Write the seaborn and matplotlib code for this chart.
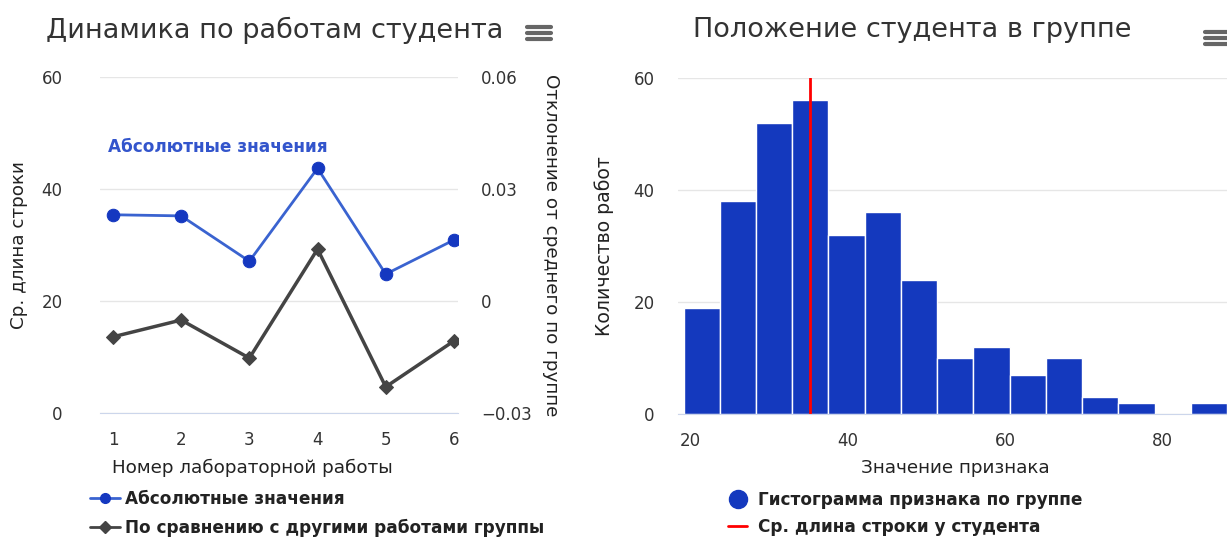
import numpy as np
import pandas as pd
import seaborn as sns
import matplotlib.pyplot as plt
from matplotlib.lines import Line2D

# данные по работам студента
lab_no = [1, 2, 3, 4, 5, 6]
abs_values = [35.4, 35.2, 27.1, 43.7, 24.8, 30.9]
deviation = [-0.0096, -0.0051, -0.0153, 0.0139, -0.0230, -0.0107]

# гистограмма по группе
bin_edges = [19.2, 23.8, 28.4, 33.0, 37.6, 42.2, 46.8, 51.4, 56.0, 60.6,
             65.2, 69.8, 74.4, 79.0, 83.6, 88.2]
bin_counts = [19, 38, 52, 56, 32, 36, 24, 10, 12, 7, 10, 3, 2, 0, 2]
student_mean = 35.2

sns.set_style("white")
plt.rcParams['font.family'] = ['DejaVu Sans']

BLUE_LINE = '#3a63d0'
BLUE_DOT = '#1538c0'
DARK = '#444444'
BAR = '#1439be'
GRID = '#e6e6e6'
AXIS = '#ccd6eb'
TXT = '#333333'
LBL = '#222222'

TICK_FS = 12
LBL_FS = 13.2
LEG_FS = 12.2
TITLE_FS = 19.5

fig = plt.figure(figsize=(12.27, 5.4), dpi=100)

# ---- левый график
ax = fig.add_axes([0.0815, 0.2352, 0.2918, 0.6222])
df = pd.DataFrame({'lab': lab_no, 'abs': abs_values, 'dev': deviation})
sns.lineplot(data=df, x='lab', y='abs', ax=ax, color=BLUE_LINE, lw=2,
             marker='o', markersize=9, markerfacecolor=BLUE_DOT,
             markeredgecolor=BLUE_DOT)
ax.set_xlim(0.81, 6.06)
ax.set_ylim(0, 60)
ax.set_yticks([0, 20, 40, 60])
ax.set_xticks(lab_no)
ax.grid(axis='y', color=GRID, lw=1)
for s in ['top', 'right', 'left']:
    ax.spines[s].set_visible(False)
ax.spines['bottom'].set_color(AXIS)
ax.tick_params(axis='x', length=8, color=AXIS, pad=5, labelsize=TICK_FS, labelcolor=TXT)
ax.tick_params(axis='y', length=0, pad=27, labelsize=TICK_FS, labelcolor=TXT)
ax.set_xlabel('Номер лабораторной работы', fontsize=LBL_FS, color=LBL)
ax.xaxis.set_label_coords(0.425, -0.135)
ax.set_ylabel('Ср. длина строки', fontsize=LBL_FS, color=LBL)
ax.yaxis.set_label_coords(-0.201, 0.5)
ax.text(0.93, 47.5, 'Абсолютные значения', color='#3355cc', fontsize=LEG_FS,
        fontweight='bold', va='center')

ax2 = ax.twinx()
sns.lineplot(data=df, x='lab', y='dev', ax=ax2, color=DARK, lw=2.5,
             marker='D', markersize=7, markerfacecolor=DARK, markeredgecolor=DARK)
ax2.set_ylim(-0.03, 0.06)
ax2.set_yticks([-0.03, 0, 0.03, 0.06])
ax2.set_yticklabels(['−0.03', '0', '0.03', '0.06'])
for s in ax2.spines.values():
    s.set_visible(False)
ax2.tick_params(axis='y', length=0, pad=16.5, labelsize=TICK_FS, labelcolor=TXT)
ax2.set_ylabel('Отклонение от среднего по группе', fontsize=LBL_FS, color=LBL,
               rotation=270, labelpad=0)
ax2.yaxis.set_label_coords(1.285, 0.5)
ax2.set_xlabel('')

# ---- правый график
bx = fig.add_axes([0.5526, 0.2333, 0.4474, 0.6222])
centers = [(a + b) / 2 for a, b in zip(bin_edges[:-1], bin_edges[1:])]
sns.histplot(x=centers, weights=bin_counts, bins=bin_edges, ax=bx,
             color=BAR, alpha=1, edgecolor='white', linewidth=1)
bx.axvline(student_mean, color='#ff0000', lw=2, ymax=1.0)
bx.set_xlim(18.5, 88.2)
bx.set_ylim(0, 60)
bx.set_yticks([0, 20, 40, 60])
bx.set_xticks([20, 40, 60, 80])
bx.grid(axis='y', color=GRID, lw=1)
bx.set_axisbelow(True)
for s in ['top', 'right', 'left']:
    bx.spines[s].set_visible(False)
bx.spines['bottom'].set_color(AXIS)
bx.tick_params(axis='x', length=8, color=AXIS, pad=5, labelsize=TICK_FS, labelcolor=TXT)
bx.tick_params(axis='y', length=0, pad=17, labelsize=TICK_FS, labelcolor=TXT)
bx.set_xlabel('Значение признака', fontsize=LBL_FS, color=LBL)
bx.xaxis.set_label_coords(0.505, -0.135)
bx.set_ylabel('Количество работ', fontsize=13.6, color=LBL)
bx.yaxis.set_label_coords(-0.117, 0.5)

# ---- заголовки
fig.text(275 / 1227, 1 - 30 / 540, 'Динамика по работам студента', fontsize=TITLE_FS,
         color=TXT, ha='center', va='center')
fig.text(912 / 1227, 1 - 30 / 540, 'Положение студента в группе', fontsize=TITLE_FS,
         color=TXT, ha='center', va='center')
for x0, y0 in [(527, 27), (1205, 32)]:
    for k in range(3):
        yy = 1 - (y0 + 6 * k) / 540
        fig.add_artist(Line2D([x0 / 1227, (x0 + 24) / 1227], [yy, yy],
                              color='#666666', lw=3, solid_capstyle='round'))

# ---- легенды
h1 = [Line2D([], [], color=BLUE_LINE, lw=2, marker='o', markersize=7,
             markerfacecolor=BLUE_DOT, markeredgecolor=BLUE_DOT),
      Line2D([], [], color=DARK, lw=2, marker='D', markersize=6,
             markerfacecolor=DARK, markeredgecolor=DARK)]
fig.legend(h1, ['Абсолютные значения', 'По сравнению с другими работами группы'],
           loc='upper left', bbox_to_anchor=(90 / 1227, 1 - 490 / 540),
           frameon=False, prop={'size': LEG_FS, 'weight': 'bold'},
           borderpad=0, borderaxespad=0,
           handlelength=1.75, handletextpad=0.3, labelspacing=0.62,
           labelcolor=LBL)
h2 = [Line2D([], [], ls='', marker='o', markersize=13, color=BAR),
      Line2D([], [], color='#ff0000', lw=2)]
fig.legend(h2, ['Гистограмма признака по группе', 'Ср. длина строки у студента'],
           loc='upper left', bbox_to_anchor=(728 / 1227, 1 - 491 / 540),
           frameon=False, prop={'size': LEG_FS, 'weight': 'bold'},
           borderpad=0, borderaxespad=0,
           handlelength=1.15, handletextpad=0.65, labelspacing=0.55,
           labelcolor=LBL)

fig.savefig('out.png', dpi=100)
